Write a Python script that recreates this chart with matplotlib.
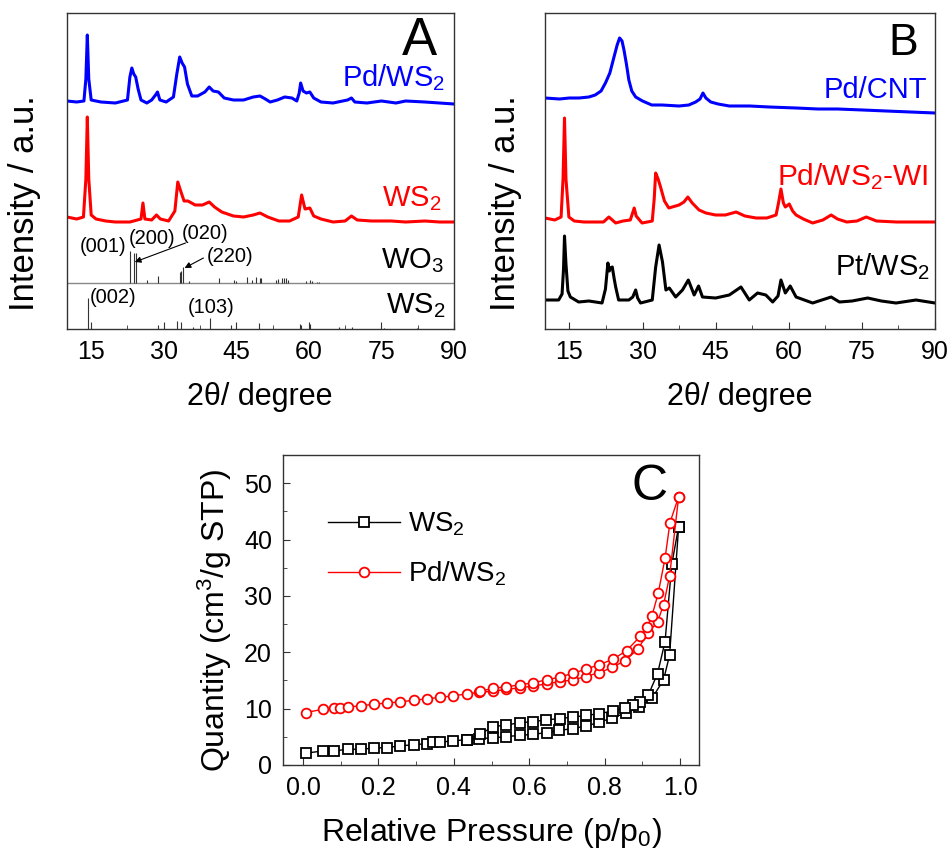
import numpy as np
import matplotlib.pyplot as plt
from matplotlib.ticker import MultipleLocator

# ---- panel A : XRD (y in arbitrary units) ----
a_pdws2_x = [10, 12, 13.5, 13.9, 14.2, 14.5, 15.0, 17, 20, 22.5, 23.0, 23.4, 23.8, 24.2, 24.7, 25.3, 26.5, 27.5,
             28.3, 28.7, 29.2, 30.5, 32.0, 32.7, 33.3, 33.8, 34.3, 34.9, 35.8, 37.0, 38.5, 39.4, 40.2, 41.3, 42.5,
             44.4, 46.5, 48.5, 49.9, 51.0, 52.0, 53.5, 55.0, 56.5, 57.5, 58.0, 58.3, 58.8, 59.5, 60.2, 61.0, 62.5,
             65, 68.0, 68.8, 69.5, 72, 75, 78, 80, 84, 87, 90]
a_pdws2_y = [228, 227, 228, 250, 294, 250, 229, 227, 226, 229, 252, 261, 255, 252, 240, 229, 226, 229,
             234, 237, 229, 227, 232, 255, 272, 266, 262, 245, 233, 233, 237, 242, 238, 237, 231,
             229, 229, 232, 233, 230, 227, 229, 232, 231, 228, 236, 246, 238, 236, 237, 231, 227,
             226, 229, 231, 227, 226, 228, 226, 228, 227, 226, 225]

a_ws2_x = [10, 12, 13.4, 13.9, 14.2, 14.5, 15.0, 16, 18, 20, 23, 25.3, 25.7, 26.1, 27.5, 28.5, 29.3, 31,
           32.3, 32.9, 33.5, 34.2, 35.0, 36.5, 38.0, 39.4, 40.5, 42.0, 44.4, 46.5, 48.5, 49.9, 51.5, 53.8,
           56, 57.8, 58.5, 59.2, 60.2, 61.0, 62.5, 65, 67.5, 68.8, 70, 73, 77, 80, 84, 87, 90]
a_ws2_y = [112, 110, 112, 150, 212, 150, 114, 110, 108, 107, 107, 110, 126, 110, 109, 114, 110, 108,
           118, 147, 138, 128, 128, 124, 124, 127, 122, 117, 113, 112, 114, 116, 112, 108,
           108, 112, 134, 120, 121, 113, 110, 107, 108, 113, 109, 108, 108, 107, 108, 107, 107]

wo3_ref_pos = [23.07, 23.77, 24.2, 26.6, 28.8, 33.3, 33.6, 34.0, 35.3, 41.4, 44.6, 45.0, 47.2, 48.2, 49.1,
               49.9, 50.2, 53.3, 53.6, 54.4, 54.8, 55.2, 55.7, 59.5, 60.2, 60.6, 61.7, 62.0]
wo3_ref_h = [31.7, 30, 30, 3, 7, 11, 11.7, 15.7, 1.7, 5, 2.7, 2, 6, 3.3, 6,
             4.7, 5.3, 3.3, 4, 4.7, 5.3, 4.7, 3.3, 2, 2.7, 2, 1.3, 1.3]
ws2_ref_pos = [14.3, 28.9, 32.8, 33.6, 36.1, 39.6, 43.9, 49.7, 58.1, 58.4, 60.2, 66.3, 69.0, 75.6, 82.3]
ws2_ref_h = [31.3, 4, 8, 7.3, 2.3, 11, 3.7, 5.7, 5, 4, 4.7, 2, 1.7, 1.2, 1]
wo3_base = 46

# ---- panel B : XRD ----
b_cnt_x = [10, 13, 15, 17, 19, 20.3, 21.5, 22.4, 23.3, 24.1, 24.8, 25.3, 25.8, 26.2, 26.7, 27.2, 27.8, 28.6,
           30, 31.9, 34, 37.5, 39.5, 40.9, 41.8, 42.4, 43.0, 44.0, 45.5, 47.8, 52, 56, 61.5, 66, 70, 75.2,
           80, 85, 90]
b_cnt_y = [231, 230, 231, 231, 232, 234, 238, 246, 256, 271, 284, 291, 288, 279, 265, 249, 238, 232,
           228, 224, 224, 223, 224, 227, 230, 236, 231, 227, 225, 223, 223, 222, 221, 220, 220, 219,
           218, 217, 216]

b_wi_x = [10, 12, 13.3, 13.7, 14.0, 14.3, 14.9, 16, 18, 20, 22, 23.1, 24.5, 26, 27.5, 27.9, 28.3, 28.7,
          29.9, 31, 32.0, 32.4, 32.7, 33.2, 33.7, 34.5, 35.4, 37.5, 38.5, 39.3, 40.2, 41.6, 43, 45, 47,
          49.2, 51, 53.3, 55.5, 57.4, 57.9, 58.4, 58.9, 59.3, 60.1, 60.8, 61.5, 63, 64.9, 67, 68.7, 70,
          71.9, 74, 75.9, 78, 82.1, 86, 90]
b_wi_y = [111, 109, 112, 150, 211, 150, 112, 108, 107, 107, 107, 112, 106, 108, 109, 115, 121, 113,
          106, 107, 108, 130, 156, 150, 142, 128, 121, 124, 127, 132, 126, 119, 116, 114, 114,
          117, 113, 111, 111, 114, 126, 140, 126, 122, 125, 118, 114, 110, 106, 109, 114, 110,
          107, 108, 112, 108, 107, 107, 107]

b_pt_x = [10.1, 12.8, 13.5, 13.8, 14.0, 14.3, 14.7, 15.2, 16.9, 19, 21.7, 22.4, 22.9, 23.2, 23.4, 23.8,
          24.2, 24.5, 25.1, 27.2, 28.0, 28.6, 29.0, 29.6, 32.0, 32.7, 33.4, 34.1, 34.8, 35.5, 36.8, 38.2,
          39.4, 40.6, 41.5, 42.3, 45.0, 47.8, 50.2, 51.9, 53.6, 55.3, 56.7, 57.8, 58.4, 59.3, 60.3, 61.5,
          64.9, 68.7, 70.4, 73, 76.2, 79, 82.0, 86.1, 90]
b_pt_y = [29, 29, 35, 60, 93, 65, 38, 32, 27, 28, 26, 40, 66, 58, 61, 62,
          50, 42, 29, 29, 32, 39, 31, 26, 29, 62, 84, 67, 39, 41, 32, 39,
          49, 34, 43, 32, 31, 34, 42, 29, 36, 34, 27, 33, 49, 36, 43, 32,
          26, 32, 27, 28, 31, 28, 26, 29, 26]

# ---- panel C : N2 isotherms ----
ws2_ads_p = [0.007, 0.054, 0.083, 0.119, 0.154, 0.188, 0.224, 0.258, 0.295, 0.329, 0.344, 0.364, 0.399,
             0.435, 0.468, 0.504, 0.539, 0.575, 0.610, 0.646, 0.680, 0.716, 0.750, 0.786, 0.820, 0.856,
             0.890, 0.925, 0.956, 0.972, 0.996]
ws2_ads_q = [2.1, 2.5, 2.5, 2.8, 2.8, 3.0, 3.1, 3.4, 3.6, 3.8, 4.0, 4.05, 4.3,
             4.5, 4.7, 4.8, 5.05, 5.25, 5.45, 5.75, 6.15, 6.45, 6.95, 7.55, 8.4, 9.2,
             10.3, 11.8, 15.1, 19.5, 42.3]
ws2_des_p = [0.996, 0.978, 0.960, 0.940, 0.916, 0.894, 0.874, 0.854, 0.821, 0.786, 0.750, 0.717, 0.681,
             0.645, 0.610, 0.575, 0.539, 0.504, 0.469, 0.435]
ws2_des_q = [42.3, 35.7, 21.9, 16.2, 12.5, 11.2, 10.6, 10.2, 9.6, 9.1, 8.8, 8.5, 8.25,
             8.0, 7.7, 7.5, 7.1, 6.8, 5.45, 4.5]

pd_ads_p = [0.007, 0.054, 0.083, 0.098, 0.119, 0.154, 0.188, 0.224, 0.258, 0.295, 0.329, 0.364, 0.399,
            0.435, 0.468, 0.504, 0.539, 0.575, 0.610, 0.646, 0.681, 0.716, 0.750, 0.786, 0.820, 0.853,
            0.887, 0.915, 0.940, 0.956, 0.972, 0.996]
pd_ads_q = [9.3, 9.9, 10.1, 10.1, 10.3, 10.5, 10.8, 11.0, 11.2, 11.5, 11.75, 12.0, 12.3,
            12.6, 12.9, 13.1, 13.4, 13.7, 14.0, 14.4, 14.8, 15.1, 15.7, 16.4, 17.3, 18.5,
            20.5, 23.4, 25.4, 28.4, 33.5, 47.6]
pd_des_p = [0.996, 0.973, 0.960, 0.942, 0.925, 0.912, 0.894, 0.858, 0.823, 0.786, 0.750, 0.717, 0.681,
            0.646, 0.610, 0.575, 0.539, 0.504, 0.470]
pd_des_q = [47.6, 43.0, 36.7, 30.5, 26.4, 24.4, 22.8, 20.3, 18.8, 17.8, 17.0, 16.3, 15.6,
            15.1, 14.6, 14.2, 13.9, 13.6, 13.1]

plt.rcParams['font.family'] = ['Liberation Sans', 'DejaVu Sans']
plt.rcParams['mathtext.fontset'] = 'custom'
plt.rcParams['mathtext.rm'] = 'Liberation Sans'
plt.rcParams['mathtext.it'] = 'Liberation Sans:italic'
plt.rcParams['mathtext.bf'] = 'Liberation Sans:bold'

W, H = 949, 851
fig = plt.figure(figsize=(W / 100, H / 100), dpi=100)


def box(l, t, r, b):
    return [l / W, 1 - b / H, (r - l) / W, (b - t) / H]


def style_xrd(ax):
    ax.set_xlim(10, 90)
    ax.set_ylim(0, 316)
    ax.set_yticks([])
    ax.xaxis.set_major_locator(MultipleLocator(15))
    ax.xaxis.set_minor_locator(MultipleLocator(7.5))
    ax.tick_params(axis='x', which='both', direction='in', labelsize=18, pad=8, color='#333333')
    ax.tick_params(axis='x', which='major', length=5)
    ax.tick_params(axis='x', which='minor', length=3)
    for s in ax.spines.values():
        s.set_color('#333333')
        s.set_linewidth(1.0)


axA = fig.add_axes(box(67, 13, 454, 329))
axB = fig.add_axes(box(545, 13, 935, 329))
axC = fig.add_axes(box(283, 455, 699, 765))

# panel A
style_xrd(axA)
axA.plot(a_pdws2_x, a_pdws2_y, color='#0000ff', lw=2.2)
axA.plot(a_ws2_x, a_ws2_y, color='#ff0000', lw=2.2)
axA.axhline(wo3_base, color='#888888', lw=1.0)
axA.vlines(wo3_ref_pos, wo3_base, [wo3_base + h for h in wo3_ref_h], color='#333333', lw=0.8)
axA.vlines(ws2_ref_pos, 0, ws2_ref_h, color='#333333', lw=0.8)

axA.text(88.2, 243, 'Pd/WS$_2$', color='#0000ff', fontsize=21, ha='right', va='baseline')
axA.text(87.5, 123, 'WS$_2$', color='#ff0000', fontsize=21, ha='right', va='baseline')
axA.text(87.9, 61, 'WO$_3$', color='k', fontsize=21, ha='right', va='baseline')
axA.text(88.2, 16, 'WS$_2$', color='k', fontsize=21, ha='right', va='baseline')
axA.text(82.8, 274, 'A', fontsize=38, ha='center', va='baseline')

axA.text(17.5, 82, '(001)', fontsize=14.5, ha='center', va='center')
axA.text(27.5, 90, '(200)', fontsize=14.5, ha='center', va='center')
axA.text(38.6, 95, '(020)', fontsize=14.5, ha='center', va='center')
axA.text(43.7, 72, '(220)', fontsize=14.5, ha='center', va='center')
axA.text(19.5, 31, '(002)', fontsize=14.5, ha='center', va='center')
axA.text(39.8, 21, '(103)', fontsize=14.5, ha='center', va='center')
arrow = dict(arrowstyle='-|>', color='k', lw=0.8, mutation_scale=9, shrinkA=0, shrinkB=0)
axA.annotate('', xy=(24.0, 67), xytext=(34.5, 86), arrowprops=arrow)
axA.annotate('', xy=(34.3, 61), xytext=(38.2, 71), arrowprops=arrow)

# panel B
style_xrd(axB)
axB.plot(b_cnt_x, b_cnt_y, color='#0000ff', lw=2.2)
axB.plot(b_wi_x, b_wi_y, color='#ff0000', lw=2.2)
axB.plot(b_pt_x, b_pt_y, color='k', lw=2.2)
axB.text(88.3, 231, 'Pd/CNT', color='#0000ff', fontsize=21, ha='right', va='baseline')
axB.text(88.6, 144, 'Pd/WS$_2$-WI', color='#ff0000', fontsize=21.5, ha='right', va='baseline')
axB.text(88.9, 54, 'Pt/WS$_2$', color='k', fontsize=21, ha='right', va='baseline')
axB.text(83.5, 274, 'B', fontsize=32, ha='center', va='baseline')

for xc in (260, 740):
    fig.text(xc / W, 1 - 397 / H, '2θ/ degree', fontsize=22, ha='center', va='center')
for xc in (25, 505):
    fig.text(xc / W, 1 - 203 / H, 'Intensity / a.u.', fontsize=25, rotation=90, ha='center', va='center')

# panel C
axC.plot(ws2_ads_p, ws2_ads_q, color='k', lw=1.0, marker='s', ms=6.5, mfc='white', mec='k', mew=1.3,
         label='WS$_2$')
axC.plot(ws2_des_p, ws2_des_q, color='k', lw=1.0, marker='s', ms=6.5, mfc='white', mec='k', mew=1.3)
axC.plot(pd_ads_p, pd_ads_q, color='#ff0000', lw=1.0, marker='o', ms=7, mfc='white', mec='#ff0000', mew=1.3,
         label='Pd/WS$_2$')
axC.plot(pd_des_p, pd_des_q, color='#ff0000', lw=1.0, marker='o', ms=7, mfc='white', mec='#ff0000', mew=1.3)
axC.set_xlim(-0.053, 1.05)
axC.set_ylim(0, 55)
axC.xaxis.set_major_locator(MultipleLocator(0.2))
axC.xaxis.set_minor_locator(MultipleLocator(0.1))
axC.yaxis.set_major_locator(MultipleLocator(10))
axC.yaxis.set_minor_locator(MultipleLocator(5))
axC.tick_params(which='both', direction='in', labelsize=18, pad=8, color='#333333')
axC.tick_params(which='major', length=5)
axC.tick_params(which='minor', length=3)
for s in axC.spines.values():
    s.set_color('#333333')
    s.set_linewidth(1.0)
axC.text(0.918, 47.0, 'C', fontsize=36, ha='center', va='baseline')
axC.legend(loc='upper left', bbox_to_anchor=(0.108, 0.82), frameon=False, fontsize=20, borderpad=0,
           borderaxespad=0, handlelength=2.6, handletextpad=0.3, labelspacing=0.78)
fig.text(215 / W, 1 - 620 / H, 'Quantity (cm$^3$/g STP)', fontsize=23, rotation=90, ha='center', va='center')
fig.text(491 / W, 1 - 833 / H, 'Relative Pressure (p/p$_0$)', fontsize=23, ha='center', va='center')

fig.savefig('out.png', dpi=100)
